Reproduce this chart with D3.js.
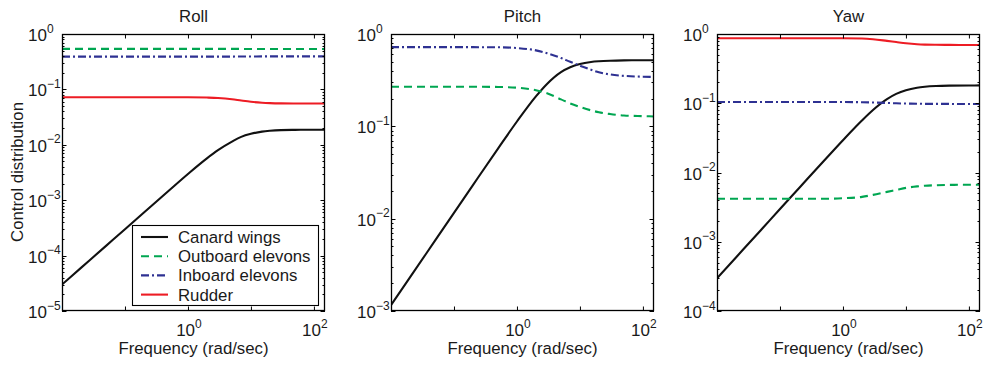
<!DOCTYPE html>
<html><head><meta charset="utf-8">
<script src="https://cdn.jsdelivr.net/npm/d3@7"></script>
<style>
body{margin:0;background:#fff}
text{font-family:"Liberation Sans",Arial,Helvetica,sans-serif;fill:#1a1a1a}
</style>
</head><body>
<svg id="c" width="983" height="365"></svg>
<script>
// ---------- DATA ----------
const freq = [0.01,0.02,0.05,0.1,0.2,0.5,1,2,3,5,7,10,15,20,30,50,100,150];
const titles = ["Roll","Pitch","Yaw"];
const seriesNames = ["Canard wings","Outboard elevons","Inboard elevons","Rudder"];

const rollCanard   = [3.0e-5,6.0e-5,1.5e-4,3.0e-4,6.0e-4,1.5e-3,2.98e-3,5.7e-3,8.0e-3,0.0114,0.0139,0.0158,0.0173,0.0179,0.0184,0.0186,0.0187,0.0187];
const rollOutboard = [0.54,0.54,0.54,0.54,0.54,0.54,0.54,0.54,0.54,0.539,0.538,0.537,0.536,0.535,0.535,0.535,0.535,0.535];
const rollInboard  = [0.39,0.39,0.39,0.39,0.39,0.39,0.39,0.39,0.39,0.391,0.392,0.393,0.394,0.395,0.395,0.395,0.395,0.395];
const rollRudder   = [0.072,0.072,0.072,0.072,0.072,0.072,0.072,0.0712,0.070,0.0665,0.063,0.0598,0.0575,0.0566,0.056,0.0558,0.0557,0.0557];

const pitchCanard   = [1.16e-3,2.31e-3,5.78e-3,0.01156,0.0231,0.0574,0.1128,0.211,0.288,0.387,0.437,0.474,0.498,0.507,0.514,0.518,0.5195,0.52];
const pitchOutboard = [0.268,0.268,0.268,0.268,0.268,0.267,0.262,0.246,0.228,0.196,0.177,0.162,0.149,0.142,0.136,0.131,0.129,0.128];
const pitchInboard  = [0.72,0.72,0.72,0.72,0.72,0.718,0.705,0.665,0.62,0.55,0.5,0.455,0.41,0.385,0.365,0.352,0.345,0.343];

const yawCanard   = [2.97e-4,5.93e-4,1.48e-3,2.97e-3,5.93e-3,0.0148,0.0293,0.0564,0.080,0.1147,0.1364,0.1545,0.1677,0.1731,0.1774,0.1797,0.1807,0.181];
const yawOutboard = [4.18e-3,4.18e-3,4.18e-3,4.18e-3,4.18e-3,4.18e-3,4.25e-3,4.45e-3,4.75e-3,5.25e-3,5.6e-3,6.0e-3,6.3e-3,6.45e-3,6.55e-3,6.62e-3,6.65e-3,6.65e-3];
const yawInboard  = [0.104,0.104,0.104,0.104,0.104,0.104,0.104,0.1035,0.1025,0.101,0.0998,0.099,0.0985,0.098,0.098,0.0978,0.0977,0.0977];
const yawRudder   = [0.867,0.867,0.867,0.867,0.867,0.867,0.867,0.86,0.84,0.795,0.765,0.735,0.712,0.703,0.698,0.696,0.695,0.695];

const yDomains = [[1e-5,1],[1e-3,1],[1e-4,1]];
const xDomain = [0.01,150];
const xMajorTicks = [0.1,1,10,100];
const xLabelTicks = [1,100];

// ---------- STYLE ----------
const styles = [
  {color:"#111111", dash:null},
  {color:"#00a651", dash:"8,5"},
  {color:"#2e3192", dash:"8,3,2,3"},
  {color:"#ed1c24", dash:null}
];

const panelData = [
  [rollCanard, rollOutboard, rollInboard, rollRudder],
  [pitchCanard, pitchOutboard, pitchInboard, null],
  [yawCanard, yawOutboard, yawInboard, yawRudder]
];
const panelLefts = [62, 391, 717];
const W = 263, plotTop = 34, plotBottom = 311;
const FS = 16.8, TFS = 17, SFS = 12;

const svg = d3.select("#c");

function powLabel(g, x, y, exp, anchor){
  const t = g.append("text").attr("x",x).attr("y",y).attr("text-anchor",anchor)
    .style("font-size",TFS+"px");
  t.append("tspan").text("10");
  t.append("tspan").attr("dy",-8.5).style("font-size",SFS+"px")
    .text(exp < 0 ? "\u2212"+(-exp) : String(exp));
}

panelData.forEach((series, pi) => {
  const left = panelLefts[pi];
  const x = d3.scaleLog().domain(xDomain).range([left, left+W]);
  const y = d3.scaleLog().domain(yDomains[pi]).range([plotBottom, plotTop]);
  const g = svg.append("g");

  const cid = "clip"+pi;
  svg.append("clipPath").attr("id",cid).append("rect")
    .attr("x",left).attr("y",plotTop).attr("width",W).attr("height",plotBottom-plotTop);

  const line = d3.line().x((d,i)=>x(freq[i])).y(d=>y(d)).curve(d3.curveMonotoneX);
  series.forEach((vals, si) => {
    if(!vals) return;
    g.append("path").attr("d", line(vals)).attr("clip-path",`url(#${cid})`)
      .attr("fill","none").attr("stroke",styles[si].color).attr("stroke-width",2.1)
      .attr("stroke-dasharray",styles[si].dash);
  });

  const [y0,y1] = yDomains[pi];
  const e0 = Math.round(Math.log10(y0)), e1 = Math.round(Math.log10(y1));
  const yMinor = [];
  for(let e=e0;e<e1;e++) for(let m=2;m<=9;m++) yMinor.push(m*Math.pow(10,e));
  const yMajor = d3.range(e0,e1+1).map(e=>Math.pow(10,e));

  const ax = g.append("g").attr("stroke","#000").attr("stroke-width",1);
  yMinor.forEach(v=>{
    const yy = Math.round(y(v))+0.5;
    ax.append("line").attr("x1",left).attr("x2",left+2.5).attr("y1",yy).attr("y2",yy);
    ax.append("line").attr("x1",left+W).attr("x2",left+W-2.5).attr("y1",yy).attr("y2",yy);
  });
  yMajor.forEach(v=>{
    const yy = Math.round(y(v))+0.5;
    ax.append("line").attr("x1",left).attr("x2",left+4.5).attr("y1",yy).attr("y2",yy);
    ax.append("line").attr("x1",left+W).attr("x2",left+W-4.5).attr("y1",yy).attr("y2",yy);
  });
  g.append("g").attr("transform",`translate(0,${plotBottom})`)
    .call(d3.axisBottom(x).tickValues(xMajorTicks).tickSize(-4.5).tickSizeOuter(0).tickFormat(""))
    .call(s=>s.select(".domain").remove())
    .call(s=>s.selectAll("line").attr("stroke","#000"));
  g.append("g").attr("transform",`translate(0,${plotTop})`)
    .call(d3.axisTop(x).tickValues(xMajorTicks).tickSize(-4.5).tickSizeOuter(0).tickFormat(""))
    .call(s=>s.select(".domain").remove())
    .call(s=>s.selectAll("line").attr("stroke","#000"));

  g.append("rect").attr("x",left+0.5).attr("y",plotTop+0.5).attr("width",W-1).attr("height",plotBottom-plotTop-1)
    .attr("fill","none").attr("stroke","#000").attr("stroke-width",1.3);

  yMajor.forEach(v=>{
    powLabel(g, left-34, y(v)+7, Math.round(Math.log10(v)), "start");
  });
  xLabelTicks.forEach(v=>{
    powLabel(g, x(v)+1, plotBottom+25, Math.round(Math.log10(v)), "middle");
  });

  g.append("text").attr("x",left+W/2).attr("y",21.5).attr("text-anchor","middle")
    .style("font-size",FS+"px").text(titles[pi]);
  g.append("text").attr("x",left+W/2).attr("y",353.5).attr("text-anchor","middle")
    .style("font-size",FS+"px").text("Frequency (rad/sec)");
});

svg.append("text").attr("transform","translate(23,172) rotate(-90)")
  .attr("text-anchor","middle").style("font-size",FS+"px").text("Control distribution");

const lg = svg.append("g");
lg.append("rect").attr("x",132.5).attr("y",225.5).attr("width",186).attr("height",80)
  .attr("fill","#fff").attr("stroke","#000").attr("stroke-width",1.1);
seriesNames.forEach((name,i)=>{
  const yy = 237 + i*19.2;
  lg.append("line").attr("x1",141).attr("x2",168).attr("y1",yy).attr("y2",yy)
    .attr("stroke",styles[i].color).attr("stroke-width",2.1).attr("stroke-dasharray",styles[i].dash);
  lg.append("text").attr("x",178).attr("y",yy+6).style("font-size",FS+"px").text(name);
});
</script>
</body></html>
